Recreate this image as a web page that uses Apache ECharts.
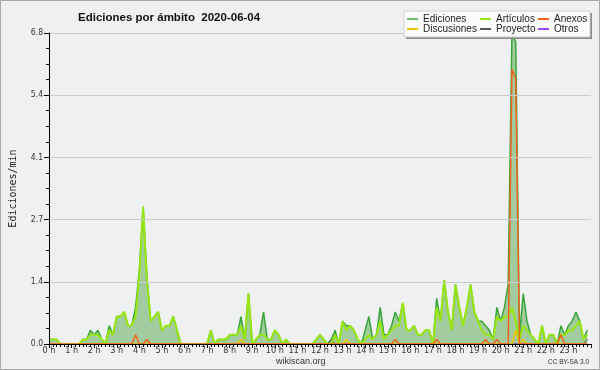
<!DOCTYPE html>
<html>
<head>
<meta charset="utf-8">
<script src="https://cdn.jsdelivr.net/npm/echarts@6/dist/echarts.min.js"></script>
<style>
html,body{margin:0;padding:0;background:#f0f0f0;}
#c{width:600px;height:370px;}
</style>
</head>
<body>
<div id="c"></div>
<script>
// 10-minute slots over the day
const hourLabels = ['0 h','1 h','2 h','3 h','4 h','5 h','6 h','7 h','8 h','9 h','10 h','11 h','12 h','13 h','14 h','15 h','16 h','17 h','18 h','19 h','20 h','21 h','22 h','23 h'];
const seriesNames = ['Ediciones','Artículos','Anexos','Discusiones','Proyecto','Otros'];

const ediciones = [
0.1,0.1,0.1,0,0,0,0,0,0,0.1,0.1,0.3,
0.2,0.3,0.1,0,0.4,0.2,0.6,0.6,0.7,0.4,0.4,0.8,
1.6,3.0,1.5,0.5,0.6,0.7,0.3,0.4,0.4,0.6,0.3,0,
0,0,0,0,0,0,0,0.3,0,0.1,0.1,0.1,
0.2,0.2,0.2,0.6,0.1,1.1,0,0.1,0.2,0.7,0.1,0.1,
0.3,0.2,0,0.1,0,0,0,0,0,0,0,0.1,
0.2,0.1,0,0.1,0.3,0,0.5,0.4,0.4,0.3,0.1,0,
0.3,0.6,0.1,0.2,0.8,0.2,0.2,0.4,0.7,0.5,0.9,0.3,
0.3,0.4,0.2,0.2,0.3,0.3,0,1.0,0.5,1.4,0.7,0.3,
1.3,0.8,0.4,0.8,1.3,0.7,0.5,0.5,0.4,0.3,0.1,0.8,
0.5,0.8,1.3,6.8,6.6,0.2,1.1,0.5,0.2,0.1,0,0.4,
0,0.2,0.2,0,0.4,0.2,0.4,0.5,0.7,0.5,0.1,0.3
];
const articulos = [
0.1,0.1,0.1,0,0,0,0,0,0,0.1,0.1,0.2,
0.2,0.2,0.1,0,0.3,0.2,0.6,0.6,0.7,0.4,0.4,0.6,
1.5,3.0,1.4,0.5,0.6,0.7,0.3,0.4,0.4,0.6,0.3,0,
0,0,0,0,0,0,0,0.3,0,0.1,0.1,0.1,
0.2,0.2,0.2,0.4,0.1,1.1,0,0.1,0.2,0.2,0.1,0.1,
0.3,0.2,0,0.1,0,0,0,0,0,0,0,0.1,
0.2,0.1,0,0,0.2,0,0.5,0.3,0.4,0.3,0.1,0,
0.1,0.2,0.1,0.2,0.5,0.1,0.2,0.3,0.4,0.4,0.9,0.3,
0.3,0.4,0.2,0.2,0.3,0.3,0,0.8,0.5,1.4,0.7,0.3,
1.3,0.8,0.4,0.8,1.3,0.7,0.5,0.3,0.2,0.2,0.1,0.6,
0.5,0.6,0.6,0.8,0.5,0.1,0.4,0.3,0.2,0.1,0,0.4,
0,0.2,0.2,0,0.2,0.2,0.3,0.3,0.4,0.5,0.1,0.2
];
const anexos = [
0,0,0,0,0,0,0,0,0,0,0,0,
0,0,0,0,0,0,0,0,0,0,0,0.2,
0,0,0.1,0,0,0,0,0,0,0,0,0,
0,0,0,0,0,0,0,0,0,0,0,0,
0,0,0,0,0,0,0,0,0,0,0,0,
0,0,0,0,0,0,0,0,0,0,0,0,
0,0,0,0,0,0,0,0,0,0,0,0,
0,0,0,0,0,0,0,0,0.1,0,0,0,
0,0,0,0,0,0,0,0.1,0,0,0,0,
0,0,0,0,0,0,0,0,0.1,0,0,0.1,
0,0,0,6.0,5.8,0,0,0,0,0,0,0,
0,0,0,0,0.2,0,0,0,0,0,0,0
];
const discusiones = [
0,0,0,0,0,0,0,0,0,0,0,0,
0,0,0,0,0,0,0,0,0,0,0,0,
0,0,0,0,0,0,0,0,0,0,0,0,
0,0,0,0,0,0,0,0,0,0,0,0,
0,0,0,0.1,0,0,0,0,0,0,0,0,
0,0,0,0,0,0,0,0,0,0,0,0,
0,0,0,0,0,0,0,0.1,0,0,0,0,
0,0,0,0,0,0,0,0,0,0,0,0,
0,0,0,0,0,0,0,0,0,0,0,0,
0,0,0,0,0,0,0,0,0,0,0,0,
0,0,0,0,0.3,0,0.1,0,0,0,0,0,
0,0,0,0,0,0,0,0,0,0,0,0
];
const proyecto = [
0,0,0,0,0,0,0,0,0,0,0,0,
0,0,0,0,0,0,0,0,0,0,0,0,
0,0,0,0,0,0,0,0,0,0,0,0,
0,0,0,0,0,0,0,0,0,0,0,0,
0,0,0,0,0,0,0,0,0,0,0,0,
0,0,0,0,0,0,0,0,0,0,0,0,
0,0,0,0.1,0,0,0,0,0,0,0,0,
0,0,0,0,0,0,0,0,0,0,0,0,
0,0,0,0,0,0,0,0,0,0,0,0,
0,0,0,0,0,0,0,0,0,0,0,0,
0,0,0,0,0,0,0,0,0,0,0,0,
0,0,0,0,0,0,0,0,0,0,0,0.1
];
const otros = [
0,0,0,0,0,0,0,0,0,0,0,0,
0,0,0,0,0,0,0,0,0,0,0,0,
0,0,0,0,0,0,0,0,0,0,0,0,
0,0,0,0,0,0,0,0,0,0,0,0,
0,0,0,0,0,0,0,0,0,0,0,0,
0,0,0,0,0,0,0,0,0,0,0,0,
0,0,0,0,0,0,0,0,0,0,0,0,
0,0,0,0,0,0,0,0,0,0,0,0,
0,0,0,0,0,0,0,0,0,0,0,0,
0,0,0,0,0,0,0,0,0,0,0,0,
0,0,0,0,0,0,0,0,0,0,0,0,
0,0,0,0,0,0,0,0,0,0,0,0
];
const slotMinutes = ediciones.map((_, i) => i * 10);
const pairs = arr => arr.map((v, i) => [slotMinutes[i], v]);

const narrow = "'Liberation Sans Narrow','DejaVu Sans Condensed','Liberation Sans',sans-serif";
const chart = echarts.init(document.getElementById('c'), null, {renderer:'canvas'});

function lineSeries(name, data, color, width, z) {
  return {name, type:'line', data:pairs(data), showSymbol:false, symbol:'none',
    lineStyle:{color, width}, itemStyle:{color}, z, animation:false};
}
const legendText = {fontFamily:'Liberation Sans', fontSize:10, lineHeight:10, color:'#222'};

chart.setOption({
  backgroundColor:'#f0f0f0',
  animation:false,
  title:{text:'Ediciones por ámbito  2020-06-04', left:73, top:7,
    textStyle:{fontFamily:'Liberation Sans', fontWeight:'bold', fontSize:11.5, color:'#111'}},
  grid:{left:46, right:9, top:33, bottom:26, show:true, backgroundColor:'#eef0f1', borderWidth:0},
  legend:[
    {data:['Ediciones','Discusiones'], orient:'vertical', left:407, top:14, padding:0, itemGap:0,
     itemWidth:11, itemHeight:2, icon:'rect', textStyle:legendText, z:20},
    {data:['Artículos','Proyecto'], orient:'vertical', left:480, top:14, padding:0, itemGap:0,
     itemWidth:11, itemHeight:2, icon:'rect', textStyle:legendText, z:20},
    {data:['Anexos','Otros'], orient:'vertical', left:538, top:14, padding:0, itemGap:0,
     itemWidth:11, itemHeight:2, icon:'rect', textStyle:legendText, z:20}
  ],
  graphic:[
    {type:'rect', shape:{x:406, y:13, width:186, height:26}, style:{fill:'#8a8a8a'}, z:15, silent:true},
    {type:'rect', shape:{x:404, y:11, width:186, height:26}, style:{fill:'#fbfbfb', stroke:'#d0d0d0', lineWidth:1}, z:16, silent:true},
    {type:'rect', shape:{x:0.5, y:0.5, width:599, height:369}, style:{fill:null, stroke:'#a8a8a8', lineWidth:1}, z:30, silent:true},
    {type:'text', left:276, top:357, style:{text:'wikiscan.org', fontFamily:'Liberation Sans', fontSize:9, fill:'#333'}, z:20},
    {type:'text', right:11, top:359, style:{text:'CC BY-SA 3.0', fontFamily:'Liberation Sans', fontSize:6.5, fill:'#333'}, z:20}
  ],
  xAxis:{type:'value', min:0, max:1440, interval:60, z:10,
    axisLine:{show:true, onZero:false, lineStyle:{color:'#000', width:1}},
    axisTick:{show:true, length:4, lineStyle:{color:'#000'}},
    minorTick:{show:true, splitNumber:6, length:3, lineStyle:{color:'#000'}},
    splitLine:{show:false}, minorSplitLine:{show:false},
    axisLabel:{margin:2, fontFamily:narrow, fontSize:9, color:'#333',
      formatter:v => hourLabels[Math.round(v/60)] || ''}},
  yAxis:{type:'value', min:0, max:6.8, interval:1.36, z:10,
    name:'Ediciones/min', nameLocation:'middle', nameGap:31, nameRotate:90,
    nameTextStyle:{fontFamily:'DejaVu Sans Mono', fontSize:10, color:'#222'},
    axisLine:{show:true, lineStyle:{color:'#000', width:1}},
    axisTick:{show:true, length:5, lineStyle:{color:'#000'}},
    minorTick:{show:true, splitNumber:4, length:3, lineStyle:{color:'#000'}},
    splitLine:{show:true, lineStyle:{color:'#cccccc', width:1}},
    axisLabel:{margin:6, fontFamily:narrow, fontSize:8.5, color:'#333',
      formatter:v => v.toFixed(1)}},
  series:[
    {name:'Ediciones', type:'line', data:pairs(ediciones), showSymbol:false, symbol:'none',
     lineStyle:{color:'#3aa53a', width:1.5}, itemStyle:{color:'#6cc06c'},
     areaStyle:{color:'#a2cca0', opacity:1}, z:2},
    lineSeries('Otros', otros, '#9a48f0', 1, 3),
    lineSeries('Proyecto', proyecto, '#555555', 1, 3),
    lineSeries('Discusiones', discusiones, '#f0c400', 1.5, 4),
    lineSeries('Artículos', articulos, '#98e610', 2, 5),
    lineSeries('Anexos', anexos, '#f0641e', 1.5, 6)
  ]
});
</script>
</body>
</html>
